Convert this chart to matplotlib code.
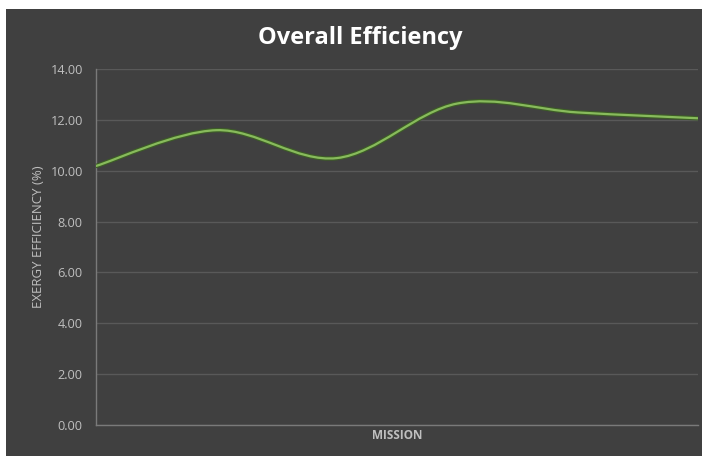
"""
Overall efficiency line chart, Excel-style smoothed line on dark background.
"""
import matplotlib
matplotlib.use("Agg")
import matplotlib.pyplot as plt
import matplotlib.patheffects as pe
from matplotlib.path import Path
from matplotlib.patches import PathPatch, Rectangle

MISSIONS = [1, 2, 3, 4, 5, 6]
EFFICIENCY = [10.19, 11.60, 10.50, 12.65, 12.30, 12.07]
YTICKS = [0, 2, 4, 6, 8, 10, 12, 14]

BG = "#404040"
GRID = "#595959"
TEXT = "#bfbfbf"
LINE = "#88bb5c"


def smooth_path(xs, ys):
    """Catmull-Rom style cubic bezier through the points (like Excel smoothing)."""
    pts = list(zip(xs, ys))
    n = len(pts)
    verts = [pts[0]]
    codes = [Path.MOVETO]
    for i in range(n - 1):
        p0 = pts[i - 1] if i > 0 else pts[i]
        p1 = pts[i]
        p2 = pts[i + 1]
        p3 = pts[i + 2] if i + 2 < n else pts[i + 1]
        c1 = (p1[0] + (p2[0] - p0[0]) / 6, p1[1] + (p2[1] - p0[1]) / 6)
        c2 = (p2[0] - (p3[0] - p1[0]) / 6, p2[1] - (p3[1] - p1[1]) / 6)
        verts += [c1, c2, p2]
        codes += [Path.CURVE4] * 3
    return Path(verts, codes)


fig = plt.figure(figsize=(7.02, 4.58), dpi=100)
fig.patch.set_facecolor("white")
fig.patches.append(
    Rectangle((6 / 702, 2 / 458), 696 / 702, 447 / 458,
              transform=fig.transFigure, facecolor=BG, edgecolor="none", zorder=-1)
)

ax = fig.add_axes([96 / 702, 1 - 424.5 / 458, 602 / 702, 355.2 / 458])
ax.set_facecolor(BG)

patch = PathPatch(smooth_path(MISSIONS, EFFICIENCY), facecolor="none",
                  edgecolor=LINE, linewidth=1.6, capstyle="round", zorder=3)
patch.set_path_effects([pe.Stroke(linewidth=3.2, foreground="#3d5e26"), pe.Normal()])
ax.add_patch(patch)

ax.set_xlim(MISSIONS[0], MISSIONS[-1])
ax.set_ylim(0, 14)
ax.set_yticks(YTICKS)
ax.set_yticklabels(["{:.2f}".format(v) for v in YTICKS])
ax.set_xticks([])
ax.grid(axis="y", color=GRID, linewidth=1)
ax.set_axisbelow(True)

for side in ("top", "right"):
    ax.spines[side].set_visible(False)
for side in ("left", "bottom"):
    ax.spines[side].set_color("#7a7a7a")
    ax.spines[side].set_linewidth(1)

ax.tick_params(axis="y", length=0, pad=9.5, labelcolor=TEXT, labelsize=9.2)
for lbl in ax.get_yticklabels():
    lbl.set_family("Open Sans")

ax.set_xlabel("MISSION", color=TEXT, fontsize=8.5, family="Open Sans",
              fontweight="bold", labelpad=3)
ax.set_ylabel("EXERGY EFFICIENCY (%)", color=TEXT, fontsize=9.5,
              family="Open Sans")
ax.yaxis.set_label_coords(-0.084, 0.528)

fig.text(0.513, 1 - 38 / 458, "Overall Efficiency", color="white", fontsize=17,
         family="Open Sans", fontweight="bold", ha="center", va="center")

fig.savefig("out.png", dpi=100, facecolor=fig.get_facecolor())
